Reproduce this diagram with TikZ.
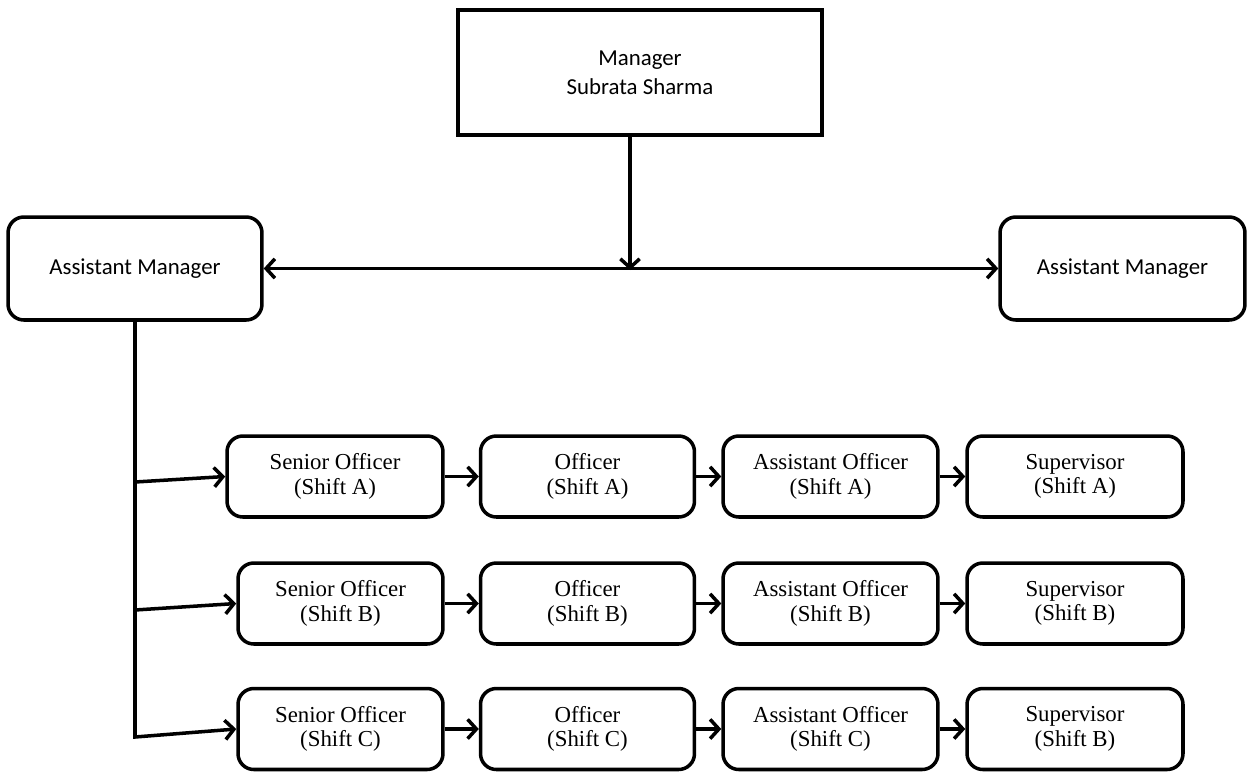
\documentclass[tikz,border=0pt]{standalone}
\usepackage{fontspec}
\setmainfont{Liberation Serif}
\newfontfamily\calfont{Carlito}
\usetikzlibrary{arrows.meta}
\tikzset{
	>={Straight Barb[length=5pt,width=11pt]},
	conn/.style={line width=2pt},
	mgrbox/.style={draw, line width=2pt, align=center, inner sep=0pt, font=\calfont\fontsize{13}{16.5}\selectfont},
	ambox/.style={mgrbox, rounded corners=9pt, minimum height=2.06cm},
	rowbox/.style={draw, line width=2pt, rounded corners=9pt, align=center, inner sep=0pt,
		minimum width=4.28cm, minimum height=1.62cm, font=\fontsize{13}{14}\selectfont},
}
\begin{document}
\begin{tikzpicture}[x=0.02cm, y=-0.02cm]
		\useasboundingbox (0,0) rectangle (1254,771);
		\node[mgrbox, minimum width=7.28cm, minimum height=2.5cm] (mgr) at (640,72.5) {Manager\\Subrata Sharma};
		\node[ambox, minimum width=5.08cm] (am1) at (135,268.5) {Assistant Manager};
		\node[ambox, minimum width=4.9cm] (am2) at (1122.5,268.5) {Assistant Manager};
		\node[rowbox, minimum width=4.32cm] (soA) at (335,476.5) {Senior Officer\\(Shift A)};
		\node[rowbox] (ofA) at (587.5,476.5) {Officer\\(Shift A)};
		\node[rowbox, minimum width=4.3cm] (aoA) at (830.5,476.5) {Assistant Officer\\(Shift A)};
		\node[rowbox, minimum width=4.32cm] (svA) at (1075,476.5) {Supervisor\\(Shift A)};
		\node[rowbox, minimum width=4.1cm] (soB) at (340.5,603.5) {Senior Officer\\(Shift B)};
		\node[rowbox] (ofB) at (587.5,603.5) {Officer\\(Shift B)};
		\node[rowbox, minimum width=4.3cm] (aoB) at (830.5,603.5) {Assistant Officer\\(Shift B)};
		\node[rowbox, minimum width=4.32cm] (svB) at (1075,603.5) {Supervisor\\(Shift B)};
		\node[rowbox, minimum width=4.1cm] (soC) at (340.5,729) {Senior Officer\\(Shift C)};
		\node[rowbox] (ofC) at (587.5,729) {Officer\\(Shift C)};
		\node[rowbox, minimum width=4.3cm] (aoC) at (830.5,729) {Assistant Officer\\(Shift C)};
		\node[rowbox, minimum width=4.32cm] (svC) at (1075,729) {Supervisor\\(Shift B)};
		\coordinate (jn) at (630,270);
		\coordinate (tA) at (135,482);
		\coordinate (tB) at (135,610);
		\coordinate (tC) at (135,737);
		% manager down to the assistant managers
		\draw[conn, ->] (mgr.south -| jn) -- (jn);
		\draw[conn, <->] (am1) -- (am2);
		% trunk to the shifts
		\draw[conn, ->] (am1.south) -- (tC) -- (soC.west);
		\draw[conn, ->] (tA) -- (soA.west);
		\draw[conn, ->] (tB) -- (soB.west);
		\path[conn, ->] (soA) edge (ofA) (ofA) edge (aoA) (aoA) edge (svA);
		\path[conn, ->] (soB) edge (ofB) (ofB) edge (aoB) (aoB) edge (svB);
		\path[conn, ->] (soC) edge (ofC) (ofC) edge (aoC) (aoC) edge (svC);
	\end{tikzpicture}
\end{document}
